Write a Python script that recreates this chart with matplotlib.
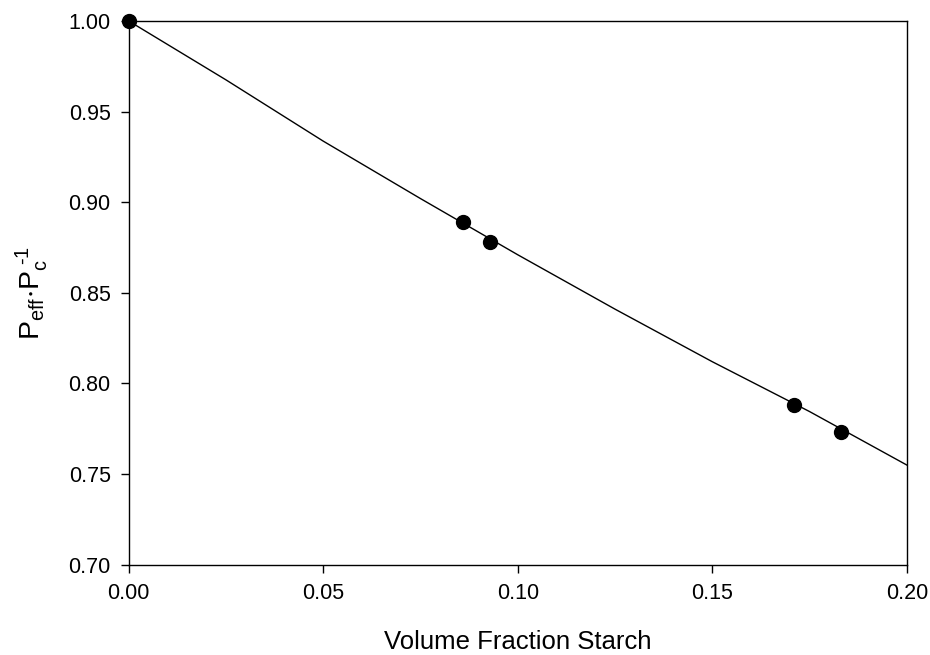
import matplotlib
matplotlib.use("Agg")
import matplotlib.pyplot as plt

plt.rcParams['font.family'] = ['Liberation Sans', 'DejaVu Sans']
plt.rcParams['mathtext.fontset'] = 'custom'
plt.rcParams['mathtext.rm'] = 'Liberation Sans'
plt.rcParams['mathtext.it'] = 'Liberation Sans'

# measured permeability ratio vs starch volume fraction
phi = [0.0, 0.086, 0.093, 0.171, 0.183]
ratio = [1.000, 0.889, 0.878, 0.788, 0.773]

# model curve
phi_fit = [0.0, 0.025, 0.05, 0.075, 0.10, 0.125, 0.15, 0.175, 0.20]
ratio_fit = [1.000, 0.9675, 0.9337, 0.902, 0.871, 0.841, 0.812, 0.7845, 0.755]

fig = plt.figure(figsize=(9.3, 6.55), dpi=100)
ax = fig.add_axes([0.1384, 0.1379, 0.975 - 0.1384, 0.968 - 0.1379])

ax.plot(phi_fit, ratio_fit, color='black', lw=1.0)
ax.plot(phi, ratio, 'o', color='black', ms=10, clip_on=False, zorder=5)

ax.set_xlim(0, 0.20)
ax.set_ylim(0.70, 1.00)
ax.set_xticks([0.0, 0.05, 0.10, 0.15, 0.20])
ax.set_yticks([0.70, 0.75, 0.80, 0.85, 0.90, 0.95, 1.00])
ax.xaxis.set_major_formatter(matplotlib.ticker.FormatStrFormatter('%.2f'))
ax.yaxis.set_major_formatter(matplotlib.ticker.FormatStrFormatter('%.2f'))
ax.tick_params(direction='out', length=6, width=1, labelsize=15.5, pad=7,
               top=False, right=False)

for s in ax.spines.values():
    s.set_linewidth(1.0)

ax.set_xlabel('Volume Fraction Starch', fontsize=18.5, labelpad=19)
ax.set_ylabel(r'$\mathregular{P_{eff}{\cdot}P_c^{\ \text{-1}}}$', fontsize=20.5, labelpad=13)

fig.savefig('out.png', dpi=100)
